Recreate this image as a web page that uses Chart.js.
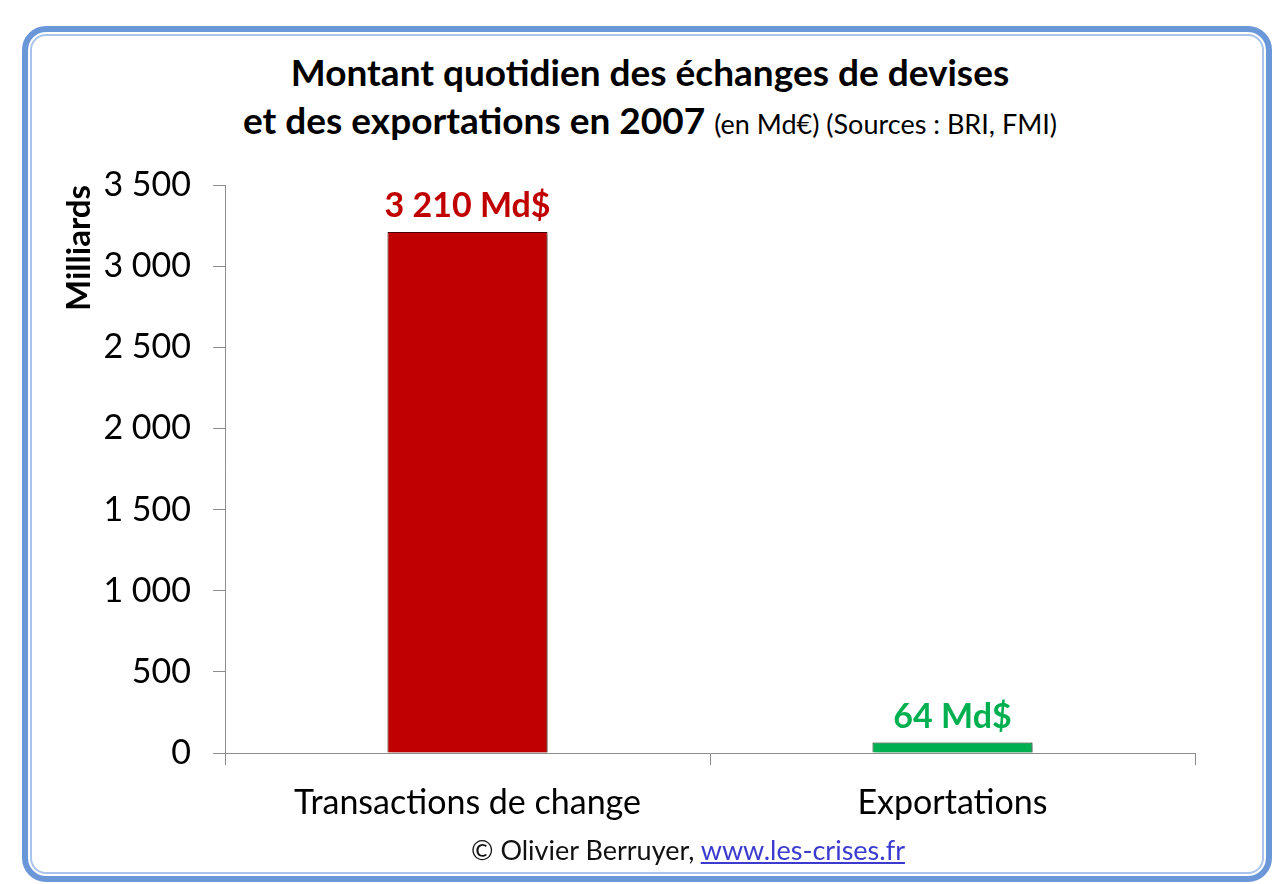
<!DOCTYPE html>
<html>
<head>
<meta charset="utf-8">
<script src="https://cdn.jsdelivr.net/npm/chart.js@4/dist/chart.umd.min.js"></script>
<style>
  html, body { margin: 0; padding: 0; background: #fff; }
  body { width: 1274px; height: 884px; position: relative; overflow: hidden; font-family: Lato, "Open Sans", sans-serif; }
  #frame {
    position: absolute; left: 22px; top: 26px; width: 1238px; height: 844px;
    border: 6px solid #6a97d8; border-radius: 24px;
    box-shadow: inset 0 0 0 2px #fff, inset 0 0 0 4px #a9c3ea;
  }
  #title { position: absolute; left: 0; width: 1300px; top: 48px; text-align: center; color: #000; font-weight: bold; font-size: 37px; line-height: 48px; }
  #title .small { font-weight: normal; font-size: 27px; }
  #foot { position: absolute; left: 0; width: 1376px; top: 833px; text-align: center; font-size: 27px; color: #111; }
  #foot a { color: #3b3bd0; text-decoration: underline; }
  #wrap { position: absolute; left: 0; top: 0; width: 1274px; height: 884px; }
</style>
</head>
<body>
<div id="frame"></div>
<div id="title">Montant quotidien des échanges de devises<br>et des exportations en 2007 <span class="small">(en Md€) (Sources : BRI, FMI)</span></div>
<div id="wrap"><canvas id="chart" width="1274" height="884"></canvas></div>
<div id="foot">© Olivier Berruyer, <a href="#">www.les-crises.fr</a></div>
<script>
var categories = ['Transactions de change', 'Exportations'];
var values = [3210, 64];
var barColors = ['#C00000', '#00B050'];
var barEdges = ['#4a0000', '#003818'];
var yTicks = [0, 500, 1000, 1500, 2000, 2500, 3000, 3500];

function fmt(n) {
    return String(n).replace(/\B(?=(\d{3})+(?!\d))/g, ' ');
}

// valeurs au-dessus des barres
var valueLabels = {
    id: 'valueLabels',
    afterDatasetsDraw: function(chart) {
        var ctx = chart.ctx;
        var meta = chart.getDatasetMeta(0);
        ctx.save();
        ctx.font = 'bold 34px Lato, "Open Sans", sans-serif';
        ctx.textAlign = 'center';
        ctx.textBaseline = 'alphabetic';
        meta.data.forEach(function(bar, i) {
            ctx.fillStyle = barColors[i];
            ctx.fillText(fmt(values[i]) + ' Md$', bar.x, bar.y - 15);
        });
        ctx.restore();
    }
};

// petite ombre sous les barres
var barShadow = {
    id: 'barShadow',
    beforeDatasetsDraw: function(chart) {
        chart.ctx.save();
        chart.ctx.shadowColor = 'rgba(0,0,0,0.35)';
        chart.ctx.shadowOffsetX = 3;
        chart.ctx.shadowOffsetY = 2;
        chart.ctx.shadowBlur = 4;
    },
    afterDatasetsDraw: function(chart) {
        chart.ctx.restore();
    }
};

var ctx = document.getElementById('chart').getContext('2d');
var chart = new Chart(ctx, {
    type: 'bar',
    data: {
        labels: categories,
        datasets: [{
            data: values,
            backgroundColor: barColors,
            borderColor: barEdges,
            borderWidth: 1,
            categoryPercentage: 1,
            barPercentage: 0.33
        }]
    },
    options: {
        responsive: false,
        animation: false,
        layout: { padding: { left: 40, right: 79, top: 185, bottom: 61 } },
        plugins: {
            legend: { display: false },
            tooltip: { enabled: false }
        },
        scales: {
            x: {
                grid: { drawOnChartArea: false, offset: true, color: '#8c8c8c', tickLength: 12 },
                border: { color: '#8c8c8c', width: 1 },
                ticks: { color: '#000', padding: 18, font: { family: 'Lato', size: 34 } },
                afterFit: function(s) { s.height = 70; }
            },
            y: {
                min: 0,
                max: 3500,
                afterBuildTicks: function(s) { s.ticks = yTicks.map(function(v) { return { value: v }; }); },
                grid: { drawOnChartArea: false, color: '#8c8c8c', tickLength: 12 },
                border: { color: '#8c8c8c', width: 1 },
                ticks: {
                    color: '#000', padding: 22,
                    font: { family: 'Lato', size: 34 },
                    callback: function(v) { return fmt(v); }
                },
                title: {
                    display: true, text: 'Milliards', align: 'end', color: '#000',
                    font: { family: 'Lato', size: 33, weight: 'bold' },
                    padding: { top: 20, bottom: 0 }
                },
                afterFit: function(s) { s.width = 185; }
            }
        }
    },
    plugins: [barShadow, valueLabels]
});
</script>
</body>
</html>
